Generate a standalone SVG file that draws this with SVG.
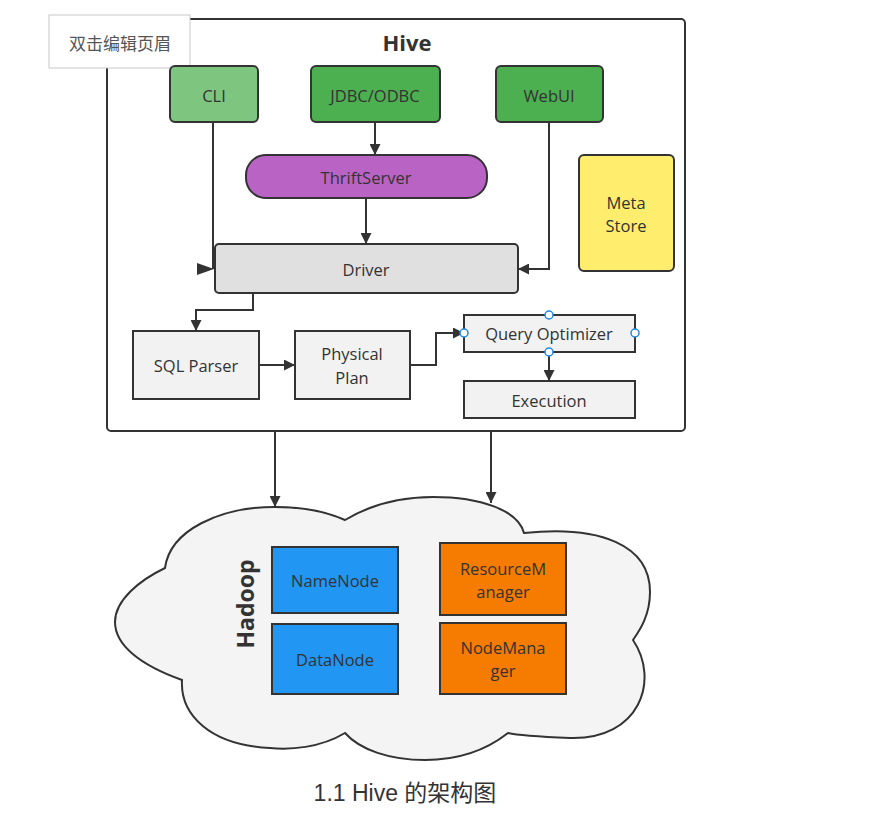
<svg xmlns="http://www.w3.org/2000/svg" width="871" height="827" viewBox="0 0 871 827">
<style>
.box{stroke:#333;stroke-width:2}
.t{font-family:"Open Sans","Noto Sans",sans-serif;font-size:16.5px;fill:#333;text-anchor:middle;dominant-baseline:central}
.ln{fill:none;stroke:#333;stroke-width:2}
.h{fill:#fff;stroke:#1e88e5;stroke-width:1.5}
</style>
<defs>
<marker id="ah" viewBox="0 0 10 10" refX="10" refY="5" markerWidth="5.5" markerHeight="5.5" orient="auto" markerUnits="strokeWidth"><path d="M0,0 L10,5 L0,10 Z" fill="#333"/></marker>
</defs>
<rect width="871" height="827" fill="#fff"/>
<g id="hive">
<rect x="107" y="19" width="578" height="412" rx="4" fill="#fff" class="box"/>
<text x="407" y="42" class="t" style="font-size:22px;font-weight:bold">Hive</text>
</g>
<g id="header">
<rect x="49" y="15" width="141" height="53" fill="#fff" stroke="#c8c8c8" stroke-width="1"/>
<text x="120" y="42" class="t" style="font-family:'Noto Sans CJK SC',sans-serif;font-size:17px;fill:#555">双击编辑页眉</text>
</g>
<g id="cli"><rect x="170" y="66" width="88" height="56" rx="5" fill="#7ec67f" class="box"/><text x="214" y="95" class="t">CLI</text></g>
<g id="jdbc"><rect x="311" y="66" width="129" height="56" rx="5" fill="#4caf50" class="box"/><text x="375" y="95" class="t">JDBC/ODBC</text></g>
<g id="webui"><rect x="496" y="66" width="107" height="56" rx="5" fill="#4caf50" class="box"/><text x="549" y="95" class="t">WebUI</text></g>
<g id="thrift"><rect x="246" y="155" width="241" height="43" rx="20" fill="#b964c4" class="box"/><text x="366" y="177" class="t">ThriftServer</text></g>
<g id="driver"><rect x="215" y="244" width="303" height="49" rx="4" fill="#e0e0e0" class="box"/><text x="366" y="269" class="t">Driver</text></g>
<g id="metastore"><rect x="579" y="155" width="95" height="116" rx="5" fill="#ffee6e" class="box"/><text x="626" y="202" class="t">Meta</text><text x="626" y="225" class="t">Store</text></g>
<g id="sqlparser"><rect x="133" y="331" width="126" height="68" fill="#f2f2f2" class="box"/><text x="196" y="365" class="t">SQL Parser</text></g>
<g id="physplan"><rect x="295" y="331" width="115" height="68" fill="#f2f2f2" class="box"/><text x="352" y="353" class="t">Physical</text><text x="352" y="377" class="t">Plan</text></g>
<g id="queryopt"><rect x="464" y="315" width="171" height="37" fill="#f2f2f2" class="box"/><text x="549" y="333" class="t">Query Optimizer</text></g>
<g id="execution"><rect x="464" y="381" width="171" height="37" fill="#f2f2f2" class="box"/><text x="549" y="400" class="t">Execution</text></g>
<g id="hadoop">
<path d="M165,568 C170,530 220,507 275,507 C300,507 325,511 345,520 C370,505 400,497 433,497 C480,497 518,510 524,533 C600,525 650,545 650,592 C650,615 640,630 633,640 C660,680 640,740 570,738 C545,737 520,736 508,733 C480,755 450,760 425,760 C390,760 360,750 345,733 C320,748 290,750 270,748 C210,745 180,715 182,680 C140,665 115,645 115,622 C115,600 140,580 165,568 Z" fill="#f4f4f4" stroke="#333" stroke-width="2"/>
<text x="245" y="604" class="t" transform="rotate(-90 245 604)" style="font-size:23px;font-weight:bold">Hadoop</text>
</g>
<g id="namenode"><rect x="272" y="547" width="126" height="66" fill="#2196f3" class="box"/><text x="335" y="580" class="t">NameNode</text></g>
<g id="datanode"><rect x="272" y="624" width="126" height="70" fill="#2196f3" class="box"/><text x="335" y="659" class="t">DataNode</text></g>
<g id="rm"><rect x="440" y="543" width="126" height="72" fill="#f57c00" class="box"/><text x="503" y="568" class="t">ResourceM</text><text x="503" y="591" class="t">anager</text></g>
<g id="nm"><rect x="440" y="623" width="126" height="71" fill="#f57c00" class="box"/><text x="503" y="647" class="t">NodeMana</text><text x="503" y="670" class="t">ger</text></g>
<g id="connectors">
<path d="M213,122 V269" class="ln"/>
<path d="M197,263 L214,269 L197,275 Z" fill="#333"/>
<path d="M375,122 V155" class="ln" marker-end="url(#ah)"/>
<path d="M366,198 V244" class="ln" marker-end="url(#ah)"/>
<path d="M549,122 V269 H518" class="ln" marker-end="url(#ah)"/>
<path d="M253,293 V310 H196 V331" class="ln" marker-end="url(#ah)"/>
<path d="M259,365 H295" class="ln" marker-end="url(#ah)"/>
<path d="M410,365 H436 V333 H464" class="ln" marker-end="url(#ah)"/>
<path d="M549,352 V381" class="ln" marker-end="url(#ah)"/>
<path d="M275,431 V507" class="ln" marker-end="url(#ah)"/>
<path d="M491,431 V503" class="ln" marker-end="url(#ah)"/>
</g>
<g id="handles">
<circle cx="549" cy="315" r="4" class="h"/>
<circle cx="464" cy="333" r="4" class="h"/>
<circle cx="635" cy="333" r="4" class="h"/>
<circle cx="549" cy="352" r="4" class="h"/>
</g>
<text x="405" y="793" style="font-family:'Liberation Sans','Noto Sans CJK SC',sans-serif;font-size:23px;fill:#333;text-anchor:middle;dominant-baseline:central">1.1 Hive 的架构图</text>
</svg>
